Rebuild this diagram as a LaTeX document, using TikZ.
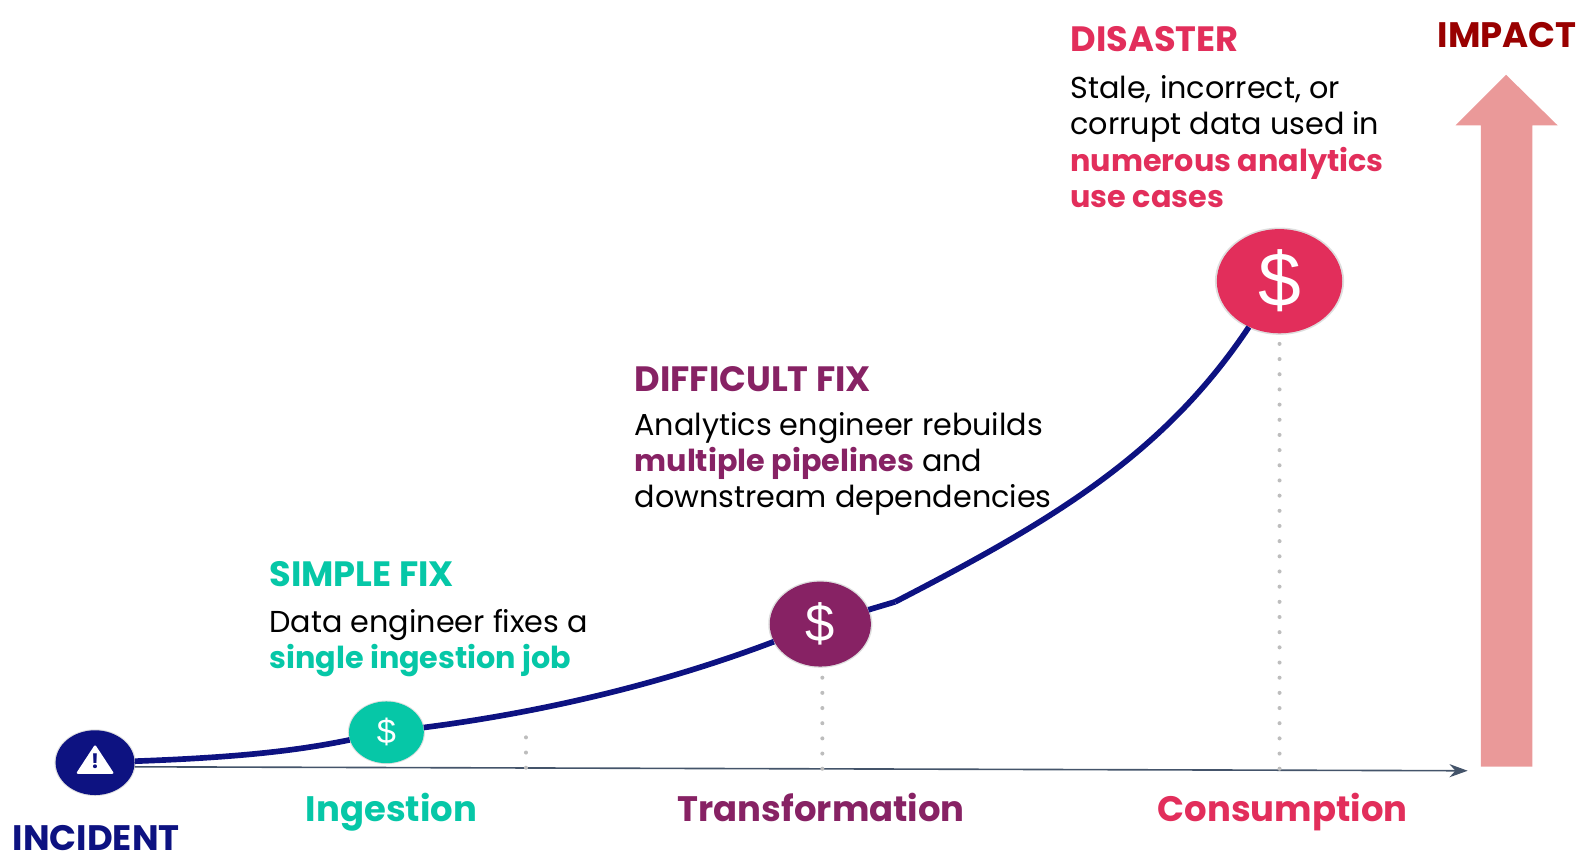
\documentclass[tikz,border=0pt]{standalone}
\usepackage{fontspec}
\setmainfont{Poppins}
\newfontfamily\dollarfont{Liberation Sans}
\usetikzlibrary{shapes.geometric,shadows,arrows.meta}
\definecolor{navyc}{HTML}{0D1281}
\definecolor{tealc}{HTML}{06C7A7}
\definecolor{plumc}{HTML}{872264}
\definecolor{rosec}{HTML}{E22E5B}
\definecolor{impactc}{HTML}{990000}
\definecolor{arrowc}{HTML}{EA9999}
\definecolor{axisc}{HTML}{44546A}
\definecolor{dotc}{HTML}{BDBDBD}
\tikzset{
  coin/.style={ellipse,inner sep=0pt,text=white,
    general shadow={fill=black,opacity=0.13,shadow scale=1.03}},
  bodytext/.style={anchor=base west,inner sep=0pt,align=left,
    font=\fontsize{14.95}{17.9}\selectfont},
  headtext/.style={anchor=base west,inner sep=0pt,
    font=\fontsize{17.4}{20}\selectfont\bfseries},
  stagetext/.style={anchor=base,inner sep=0pt,text depth=0pt,
    font=\fontsize{17.5}{20}\selectfont\bfseries},
  dotline/.style={dotc,line width=2pt,line cap=round,dash pattern=on 0pt off 7.5pt},
  riskline/.style={navyc,line width=2.8pt}
}
\begin{document}
\begin{tikzpicture}[x=0.5pt,y=-0.5pt]
  \useasboundingbox (0,0) rectangle (1568,850);
  % impact arrow
  \fill[arrowc] (1464,758)--(1464,124)--(1439,124)--(1489,74)--(1540,124)--(1515,124)--(1515,758)--cycle;
  \path (1490,47) node[anchor=base,inner sep=0pt,text=impactc,font=\fontsize{17.5}{20}\selectfont\bfseries] (impact) {IMPACT};
  % coins
  \path (94,754) node[coin,fill=navyc,minimum width=39pt,minimum height=32pt] (incident) {};
  \path (382,724) node[coin,fill=tealc,minimum width=37pt,minimum height=30.5pt,font=\dollarfont\fontsize{17}{20}\selectfont] (ingest) {\$};
  \path (811,617) node[coin,fill=plumc,minimum width=50pt,minimum height=42pt,font=\dollarfont\fontsize{26}{28}\selectfont] (transform) {\$};
  \path (1265,278) node[coin,fill=rosec,minimum width=62pt,minimum height=51.5pt,font=\dollarfont\fontsize{38}{40}\selectfont] (disaster) {\$};
  % warning sign
  \fill[white,rounded corners=1pt] (75,765)--(94,736)--(113,765)--cycle;
  \path (94,753) node[inner sep=0pt,text=navyc,font=\fontsize{10}{12}\selectfont\bfseries] (warn) {!};
  % axis and dots
  \coordinate (axisend) at (1451,762);
  \draw[axisc,line width=0.8pt,-{Stealth[length=9pt,width=6.5pt]}] (incident.-6)--(axisend);
  \coordinate (dotA) at (520,761);
  \coordinate (dotAtop) at (520,729);
  \draw[dotline] (dotAtop)--(dotA);
  \coordinate (dotB) at (813,761);
  \draw[dotline] (813,670)--(dotB);
  \coordinate (dotC) at (1265,761);
  \draw[dotline] (1265,340)--(dotC);
  % curve
  \coordinate (bend) at (885,595);
  \draw[riskline] (incident) .. controls (230,749) and (290,743) .. (ingest);
  \draw[riskline] (ingest) .. controls (530,705) and (650,678) .. (transform);
  \draw[riskline] (transform)--(bend);
  \draw[riskline] (bend) .. controls (1040,515) and (1150,450) .. (disaster);
  % labels
  \path (95,841) node[stagetext,text=navyc] (incidentlabel) {INCIDENT};
  \path (387,812) node[stagetext,text=tealc] (ingestlabel) {Ingestion};
  \path (812,812) node[stagetext,text=plumc] (transformlabel) {Transformation};
  \path (1268,812) node[stagetext,text=rosec] (disasterlabel) {Consumption};
  \path (266,580) node[headtext,text=tealc] (simplehead) {SIMPLE FIX};
  \path (266,661) node[bodytext] (simplebody) {Data engineer fixes a\\\textcolor{tealc}{\bfseries single ingestion job}};
  \path (627,387) node[headtext,text=plumc] (difficulthead) {DIFFICULT FIX};
  \path (627,502) node[bodytext] (difficultbody) {Analytics engineer rebuilds\\\textcolor{plumc}{\bfseries multiple pipelines} and\\downstream dependencies};
  \path (1058,51) node[headtext,text=rosec] (disasterhead) {DISASTER};
  \path (1058,205) node[bodytext] (disasterbody) {Stale, incorrect, or\\corrupt data used in\\\textcolor{rosec}{\bfseries numerous analytics}\\\textcolor{rosec}{\bfseries use cases}};
\end{tikzpicture}
\end{document}
